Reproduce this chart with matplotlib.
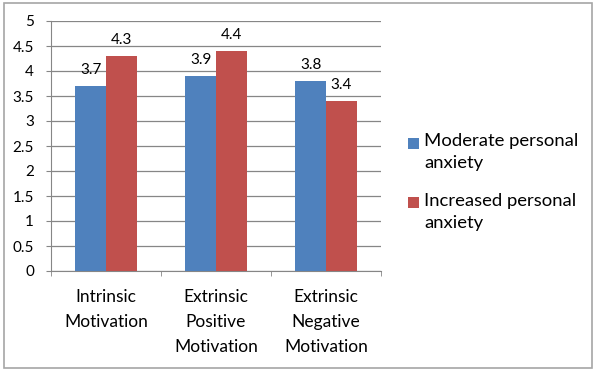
import matplotlib.pyplot as plt
from matplotlib.patches import Rectangle
import numpy as np

categories = ["Intrinsic\nMotivation", "Extrinsic\nPositive\nMotivation", "Extrinsic\nNegative\nMotivation"]
moderate = [3.7, 3.9, 3.8]
increased = [4.3, 4.4, 3.4]
series_names = ["Moderate personal\nanxiety", "Increased personal\nanxiety"]
yticks = [0, 0.5, 1, 1.5, 2, 2.5, 3, 3.5, 4, 4.5, 5]

blue = "#4F81BD"
red = "#C0504D"
grid_col = "#868686"

plt.rcParams["font.family"] = ["Lato", "DejaVu Sans"]

W, H = 600, 372
fig = plt.figure(figsize=(W / 100, H / 100), dpi=100)
ax = fig.add_axes([51 / W, 1 - 271 / H, 330 / W, 250 / H])

x = np.arange(len(categories))
w = 0.28
b1 = ax.bar(x - w / 2, moderate, w, color=blue, zorder=3)
b2 = ax.bar(x + w / 2, increased, w, color=red, zorder=3)

for bars, vals in ((b1, moderate), (b2, increased)):
    for r, v in zip(bars, vals):
        ax.annotate(f"{v:.1f}", (r.get_x() + r.get_width() / 2, v), xytext=(0, 16),
                    textcoords="offset pixels", ha="center", va="center", fontsize=11)

ax.set_xlim(-0.5, 2.5)
ax.set_ylim(0, 5)
ax.set_yticks(yticks)
ax.set_yticklabels([f"{t:g}" for t in yticks], fontsize=11)
ax.yaxis.grid(True, color=grid_col, linewidth=0.9, zorder=0)
# sizes in points (1px = 0.72pt at 100 dpi)
ax.tick_params(axis="y", length=3.6, color=grid_col, pad=8.6)

ax.set_xticks(x)
ax.set_xticklabels(categories, fontsize=12.5, va="top", linespacing=1.7)
ax.tick_params(axis="x", length=0, pad=13)
ax.set_xticks([-0.5, 0.5, 1.5, 2.5], minor=True)
ax.tick_params(axis="x", which="minor", length=3.6, color=grid_col)

for s in ["top", "right"]:
    ax.spines[s].set_visible(False)
ax.spines["left"].set_color(grid_col)
ax.spines["bottom"].set_color(grid_col)

# legend drawn by hand so the marker sits beside the first text line
for i, (name, col) in enumerate(zip(series_names, [blue, red])):
    y0 = 143 + i * 60
    fig.patches.append(Rectangle((408 / W, 1 - (y0 + 5.5) / H), 11 / W, 11 / H,
                                 transform=fig.transFigure, facecolor=col, edgecolor="none"))
    fig.text(424 / W, 1 - (y0 - 10) / H, name, fontsize=13.3, va="top", ha="left",
             linespacing=1.45)

fig.patches.append(Rectangle((4 / W, 4 / H), 588 / W, 365 / H, transform=fig.transFigure,
                             fill=False, edgecolor="#A6A6A6", linewidth=1.2))

fig.savefig("out.png", dpi=100)
